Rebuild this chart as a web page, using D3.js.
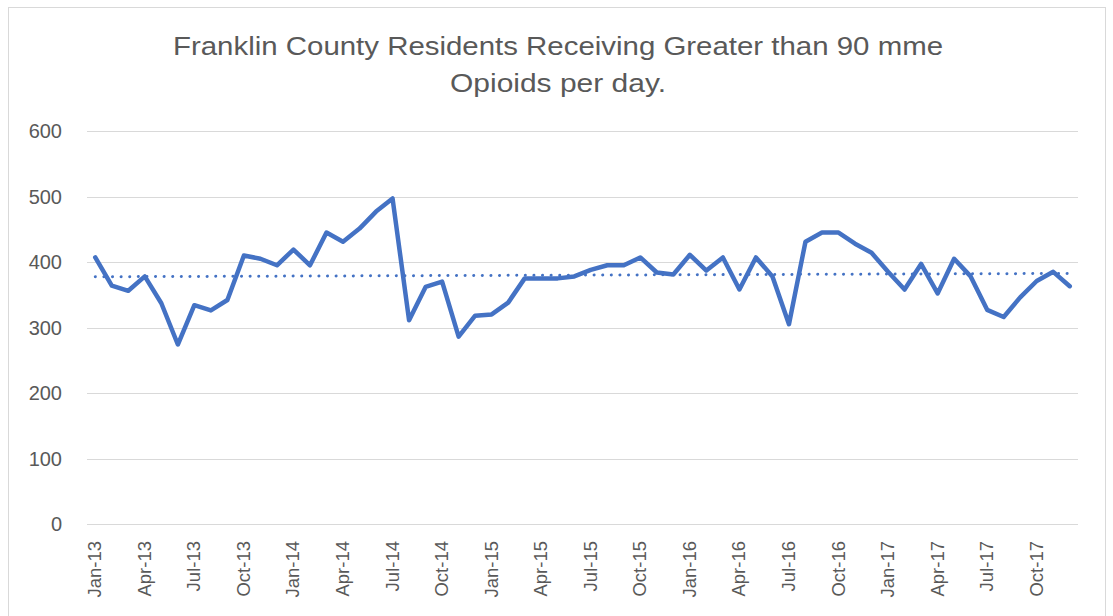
<!DOCTYPE html>
<html>
<head>
<meta charset="utf-8">
<script src="https://cdn.jsdelivr.net/npm/d3@7"></script>
<style>
  body { margin: 0; background: #fff; }
  text { font-family: "Liberation Sans", Arial, sans-serif; fill: #595959; }
</style>
</head>
<body>
<script>
// monthly values Jan-13 .. Dec-17
const months = ["Jan","Feb","Mar","Apr","May","Jun","Jul","Aug","Sep","Oct","Nov","Dec"]
const years = ["13","14","15","16","17"]
const labels = years.flatMap(y => months.map(m => m + "-" + y))

const values2013 = [407, 364, 356, 378, 337, 274, 334, 326, 342, 410, 405, 395]
const values2014 = [419, 395, 445, 431, 451, 477, 497, 311, 362, 370, 286, 318]
const values2015 = [320, 338, 375, 375, 375, 378, 388, 395, 395, 407, 384, 381]
const values2016 = [411, 387, 407, 358, 407, 378, 305, 431, 445, 445, 428, 414]
const values2017 = [385, 358, 397, 352, 405, 378, 327, 316, 346, 371, 385, 363]
const values = [...values2013, ...values2014, ...values2015, ...values2016, ...values2017]

const yTicks = [0, 100, 200, 300, 400, 500, 600]
const titleLines = ["Franklin County Residents Receiving Greater than 90 mme", "Opioids per day."]

const width = 1113, height = 616
const margin = {left: 87, right: 35, top: 131, bottom: 92}

const svg = d3.select("body").append("svg")
    .attr("width", width)
    .attr("height", height)

// chart border
svg.append("rect")
    .attr("x", 8.5).attr("y", 7.5)
    .attr("width", 1097).attr("height", 620)
    .attr("fill", "none")
    .attr("stroke", "#d9d9d9")

const x = d3.scaleBand()
    .domain(labels)
    .range([margin.left, width - margin.right])

const y = d3.scaleLinear()
    .domain([0, 600])
    .range([height - margin.bottom, margin.top])

// gridlines
svg.append("g")
    .selectAll("line")
    .data(yTicks)
    .join("line")
    .attr("x1", margin.left)
    .attr("x2", width - margin.right)
    .attr("y1", d => Math.round(y(d)) + 0.5)
    .attr("y2", d => Math.round(y(d)) + 0.5)
    .attr("stroke", "#d9d9d9")
    .attr("stroke-width", 1)

// y labels
svg.append("g")
    .selectAll("text")
    .data(yTicks)
    .join("text")
    .attr("x", 62)
    .attr("y", d => y(d))
    .attr("dy", "0.36em")
    .attr("text-anchor", "end")
    .style("font-size", "20px")
    .text(d => d)

// x labels, every third month
svg.append("g")
    .selectAll("text")
    .data(labels.filter((d, i) => i % 3 === 0))
    .join("text")
    .attr("transform", d => `translate(${x(d) + x.bandwidth() / 2 + 6},${y(0) + 17}) rotate(-90)`)
    .attr("text-anchor", "end")
    .style("font-size", "18.5px")
    .text(d => d)

const cx = (d, i) => x(labels[i]) + x.bandwidth() / 2

// linear trendline
const n = values.length
const mx = d3.mean(values, (d, i) => i)
const my = d3.mean(values)
const slope = d3.sum(values, (d, i) => (i - mx) * (d - my)) / d3.sum(values, (d, i) => (i - mx) * (i - mx))
const icpt = my - slope * mx
svg.append("line")
    .attr("x1", cx(null, 0))
    .attr("x2", cx(null, n - 1))
    .attr("y1", y(icpt))
    .attr("y2", y(icpt + slope * (n - 1)))
    .attr("stroke", "#4472c4")
    .attr("stroke-width", 3)
    .attr("stroke-linecap", "round")
    .attr("stroke-dasharray", "0.1 8.5")

// main line
svg.append("path")
    .datum(values)
    .attr("fill", "none")
    .attr("stroke", "#4472c4")
    .attr("stroke-width", 4.5)
    .attr("stroke-linejoin", "round")
    .attr("stroke-linecap", "round")
    .attr("d", d3.line().x(cx).y(d => y(d)))

// title
svg.append("g")
    .selectAll("text")
    .data(titleLines)
    .join("text")
    .attr("x", 558)
    .attr("y", (d, i) => 55 + i * 37)
    .attr("text-anchor", "middle")
    .style("font-size", "25px")
    .attr("textLength", (d, i) => i === 0 ? 770 : 216)
    .attr("lengthAdjust", "spacingAndGlyphs")
    .text(d => d)
</script>
</body>
</html>
